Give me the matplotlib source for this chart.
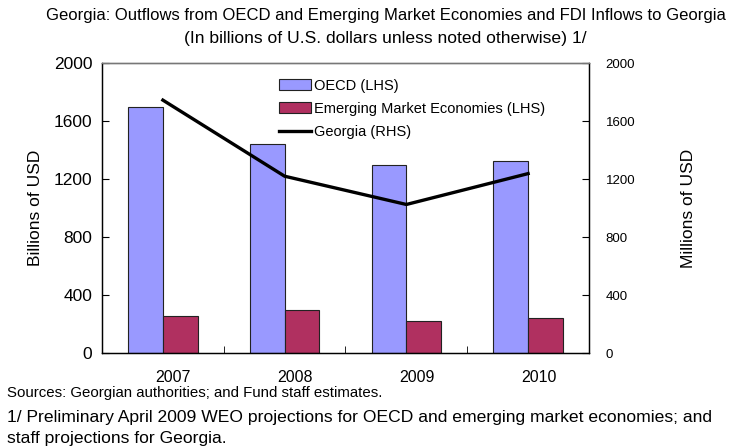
import numpy as np
import matplotlib
matplotlib.use("Agg")
import matplotlib.pyplot as plt
from matplotlib.lines import Line2D
from matplotlib.patches import Patch

years = ["2007", "2008", "2009", "2010"]
oecd = [1700, 1440, 1300, 1325]          # billions USD (LHS)
eme = [258, 294, 224, 241]               # billions USD (LHS)
georgia = [1745, 1220, 1025, 1238]       # millions USD (RHS)

OECD_COL = "#9999FF"
EME_COL = "#B03060"
plt.rcParams["font.family"] = ["Liberation Sans", "DejaVu Sans"]

fig = plt.figure(figsize=(7.43, 4.48), dpi=100)
ax = fig.add_axes([0.1373, 0.212, 0.6554, 0.647])
ax2 = ax.twinx()

x = np.arange(len(years))
w = 0.285
ax.bar(x - w / 2, oecd, w, color=OECD_COL, edgecolor="#222222", lw=0.8)
ax.bar(x + w / 2, eme, w, color=EME_COL, edgecolor="#222222", lw=0.8)
ax.set_xlim(-0.5, len(years) - 0.5)
ax.set_ylim(0, 2000)
ax.set_yticks(np.arange(0, 2001, 400))
# year labels sit a little right of the group centres in the original
ax.set_xticks(x + 0.085)
ax.set_xticklabels(years, fontsize=11.5)
ax.set_xticks(x[:-1] + 0.5, minor=True)
ax.tick_params(axis="x", which="major", length=0, pad=12)
ax.tick_params(axis="x", which="minor", direction="in", length=5)
ax.tick_params(axis="y", direction="in", length=5, labelsize=12.5, pad=7)
ax.set_ylabel("Billions of USD", fontsize=12.5, labelpad=8)

ax2.plot(x, georgia, color="black", lw=2.4)
ax2.set_ylim(0, 2000)
ax2.set_yticks(np.arange(0, 2001, 400))
ax2.tick_params(axis="y", direction="in", length=5, labelsize=9.5, pad=12)
ax2.set_ylabel("Millions of USD", fontsize=12.5, labelpad=33)

for a in (ax, ax2):
    for s in a.spines.values():
        s.set_linewidth(0.9)
ax2.spines["top"].set_color("#777777")

handles = [Patch(facecolor=OECD_COL, edgecolor="#222222", lw=0.8),
           Patch(facecolor=EME_COL, edgecolor="#222222", lw=0.8),
           Line2D([], [], color="black", lw=2.4)]
labels = ["OECD (LHS)", "Emerging Market Economies (LHS)", "Georgia (RHS)"]
ax2.legend(handles, labels, loc="upper left", bbox_to_anchor=(0.351, 0.966),
           frameon=False, fontsize=10.5, handlelength=2.2, handleheight=0.8,
           handletextpad=0.2, labelspacing=0.62, borderaxespad=0)

fig.text(0.519, 0.966, "Georgia: Outflows from OECD and Emerging Market Economies and FDI Inflows to Georgia",
         ha="center", va="center", fontsize=12)
fig.text(0.519, 0.915, "(In billions of U.S. dollars unless noted otherwise) 1/",
         ha="center", va="center", fontsize=12.6)
fig.text(0.009, 0.123, "Sources: Georgian authorities; and Fund staff estimates.",
         ha="left", va="center", fontsize=10.8)
fig.text(0.009, 0.069, "1/ Preliminary April 2009 WEO projections for OECD and emerging market economies; and",
         ha="left", va="center", fontsize=12.6)
fig.text(0.009, 0.022, "staff projections for Georgia.",
         ha="left", va="center", fontsize=12.6)

fig.savefig("out.png", dpi=100)
